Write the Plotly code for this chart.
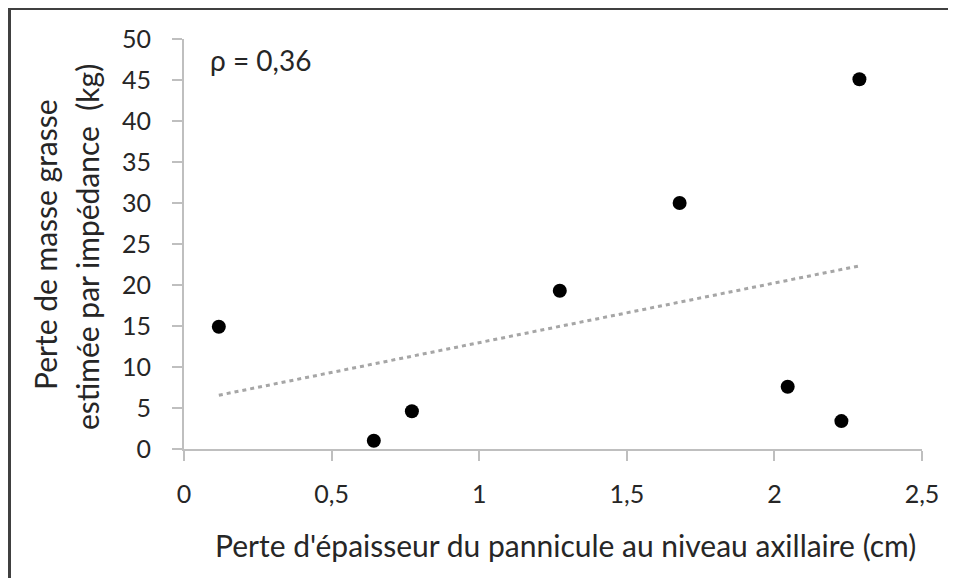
import numpy as np
import plotly.graph_objects as go

# Data
perte_epaisseur_cm = [0.118, 0.643, 0.772, 1.273, 1.679, 2.045, 2.227, 2.288]
perte_masse_grasse_kg = [14.9, 1.0, 4.6, 19.3, 30.0, 7.6, 3.4, 45.1]
x_ticks = [0, 0.5, 1, 1.5, 2, 2.5]
x_tick_labels = ["0", "0,5", "1", "1,5", "2", "2,5"]
y_ticks = [0, 5, 10, 15, 20, 25, 30, 35, 40, 45, 50]
y_tick_labels = [str(v) for v in y_ticks]
rho_label = "ρ = 0,36"
x_title = "Perte d'épaisseur du pannicule au niveau axillaire (cm)"
y_title_lines = ["Perte de masse grasse", "estimée par impédance  (kg)"]

W, H = 956, 578
OFF = 8  # page body margin offset
FONT = "Lato"
TXT = "#262626"


def px(x):
    return (x - OFF) / W


def py(y):
    return (H - (y - OFF)) / H


# Linear trendline (least squares) from the data
slope, intercept = np.polyfit(perte_epaisseur_cm, perte_masse_grasse_kg, 1)
tx = np.array([min(perte_epaisseur_cm), max(perte_epaisseur_cm)])
ty = slope * tx + intercept

fig = go.Figure()
fig.add_trace(go.Scatter(
    x=tx, y=ty, mode="lines",
    line=dict(color="#a6a6a6", width=3, dash="4px,4px"),
    hoverinfo="skip", showlegend=False,
))
fig.add_trace(go.Scatter(
    x=perte_epaisseur_cm, y=perte_masse_grasse_kg, mode="markers",
    marker=dict(color="black", size=14, line=dict(width=0)),
    showlegend=False,
))

fig.update_layout(
    template="none",
    width=W, height=H,
    margin=dict(l=0, r=0, t=0, b=0),
    paper_bgcolor="white", plot_bgcolor="white",
    font=dict(family=FONT, color=TXT, size=24),
    xaxis=dict(
        domain=[px(184), px(922)], range=[0, 2.5], tickvals=x_ticks, ticktext=x_tick_labels,
        showgrid=False, zeroline=False, showline=True, linecolor="#bfbfbf", linewidth=2,
        ticks="outside", ticklen=10, tickwidth=2, tickcolor="#bfbfbf",
        ticklabelstandoff=12, automargin=False,
        tickfont=dict(family=FONT, size=25, color=TXT),
    ),
    yaxis=dict(
        domain=[py(449), py(39)], range=[0, 50], tickvals=y_ticks, ticktext=y_tick_labels,
        showgrid=False, zeroline=False, showline=True, linecolor="#bfbfbf", linewidth=2,
        ticks="outside", ticklen=10, tickwidth=2, tickcolor="#bfbfbf",
        ticklabelstandoff=16, automargin=False,
        tickfont=dict(family=FONT, size=25, color=TXT),
    ),
    shapes=[dict(
        type="rect", xref="paper", yref="paper",
        x0=px(9.5), x1=1.05, y0=-0.05, y1=py(8.5),
        line=dict(color="#404040", width=3), fillcolor="rgba(0,0,0,0)", layer="above",
    )],
    annotations=[
        dict(text=rho_label, xref="paper", yref="paper",
             x=px(208), y=py(60), xanchor="left", yanchor="middle",
             showarrow=False, font=dict(family=FONT, size=28, color=TXT)),
        dict(text=x_title, xref="paper", yref="paper",
             x=px(565), y=py(545), xanchor="center", yanchor="middle",
             showarrow=False, font=dict(family=FONT, size=30, color=TXT)),
        dict(text=y_title_lines[0], xref="paper", yref="paper",
             x=px(45), y=py(245), xanchor="center", yanchor="middle",
             textangle=-90, showarrow=False, font=dict(family=FONT, size=30, color=TXT)),
        dict(text=y_title_lines[1], xref="paper", yref="paper",
             x=px(87), y=py(247), xanchor="center", yanchor="middle",
             textangle=-90, showarrow=False, font=dict(family=FONT, size=30, color=TXT)),
    ],
)

fig.write_html("out.html")
